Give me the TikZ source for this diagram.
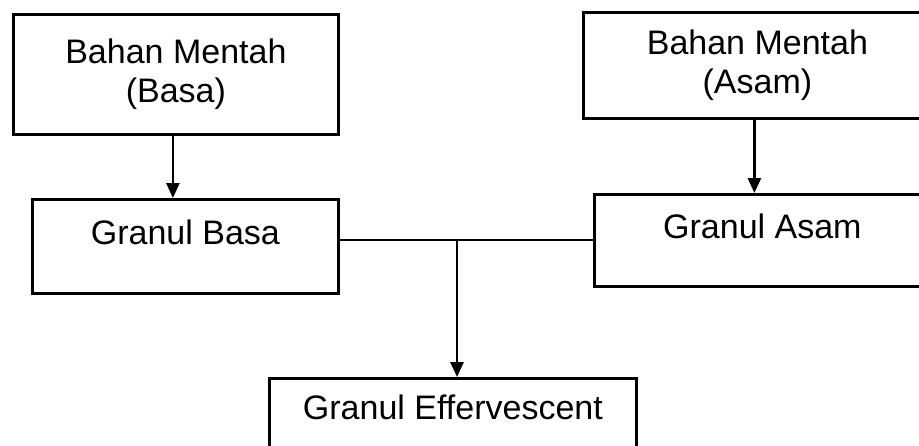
\documentclass[tikz,border=0pt]{standalone}
\usepackage{fontspec}
\setmainfont{Liberation Sans}
\usetikzlibrary{arrows.meta}

\begin{document}
\begin{tikzpicture}[x=1pt,y=1pt,
		box/.style={draw=black, line width=2.8pt, inner xsep=0pt, inner ysep=0pt, align=center, anchor=north west, font=\fontsize{34}{39}\selectfont},
		arr/.style={line width=2.6pt, -{Triangle[width=13pt,length=15pt]}}]
		\useasboundingbox (0,0) rectangle (919,-445);
		\clip (0,0) rectangle (919,-445);
		% raw materials
		\node [box, minimum width=325, minimum height=120] (mentahbasa) at (12,-13) {Bahan Mentah\\(Basa)};
		\node [box, minimum width=348, minimum height=106] (mentahasam) at (582,-11) {Bahan Mentah\\(Asam)};
		% granules
		\node [box, minimum width=306, text height=45, text depth=49] (granulbasa) at (31,-198) {Granul Basa};
		\node [box, minimum width=336, text height=44, text depth=48] (granulasam) at (593,-193) {Granul Asam};
		\node [box, minimum width=367, text height=41, text depth=44] (effervescent) at (268,-377) {Granul Effervescent};
		% connections
		\draw [arr] ([xshift=-3pt]mentahbasa.south) -- ([xshift=-3pt]mentahbasa.south |- granulbasa.north);
		\draw [arr] ([xshift=-3pt]mentahasam.south) -- ([xshift=-3pt]mentahasam.south |- granulasam.north);
		\coordinate (cabang) at (457,-240);
		\draw [line width=2.6pt] (cabang -| granulbasa.east) -- (cabang -| granulasam.west);
		\draw [arr] (cabang) -- (cabang |- effervescent.north);
\end{tikzpicture}
\end{document}
